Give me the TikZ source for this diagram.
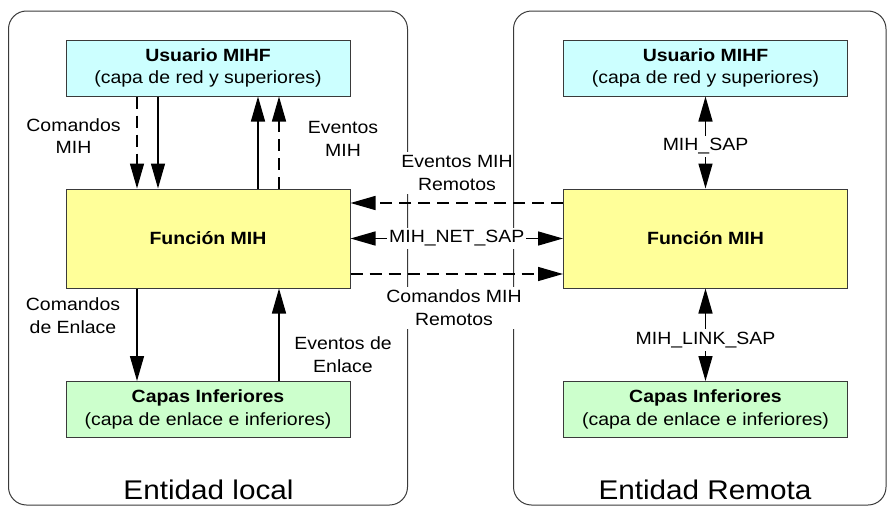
\documentclass[tikz,border=0pt]{standalone}
\usepackage{fontspec}
\setmainfont[FakeStretch=1.1]{Liberation Sans}
\usetikzlibrary{arrows.meta}
\definecolor{cyanbox}{HTML}{CCFFFF}
\definecolor{yelbox}{HTML}{FFFF99}
\definecolor{grnbox}{HTML}{CCFFCC}
\definecolor{bordc}{HTML}{3A3A3A}
\newcommand\lblfont{\fontsize{17.7}{22.8}\selectfont}
\newcommand\entfont{\fontsize{27}{32}\selectfont}
\tikzset{
  layerbox/.style={draw=bordc, line width=1pt, minimum width=284pt, minimum height=56pt, inner sep=0pt, align=center, font=\lblfont},
  funcbox/.style={layerbox, fill=yelbox, minimum height=99pt},
  container/.style={draw=bordc, line width=1pt, rounded corners=18pt},
  lbl/.style={font=\lblfont, align=center, inner xsep=0pt, inner ysep=3pt},
  lblw/.style={lbl, fill=white},
  sarrow/.style={line width=1.4pt, -{Triangle[length=25pt,width=14pt]}},
  darrow/.style={sarrow, dash pattern=on 12pt off 7pt},
  dblarrow/.style={line width=1.4pt, {Triangle[length=25pt,width=14pt]}-{Triangle[length=25pt,width=14pt]}},
}
\begin{document}
\begin{tikzpicture}[x=1pt,y=-1pt]
\useasboundingbox (0,0) rectangle (887,506);
% containers
\draw[container] (8.5,11) rectangle (407.5,505);
\draw[container] (513.5,11) rectangle (886,505);
% boxes
\node[layerbox, fill=cyanbox] (ul) at (208,68) {\textbf{Usuario MIHF}\\(capa de red y superiores)};
\node[funcbox] (fl) at (208,238.5) {\textbf{Función MIH}};
\node[layerbox, fill=grnbox] (cl) at (208,409.5) {\textbf{Capas Inferiores}\\(capa de enlace e inferiores)};
\node[layerbox, fill=cyanbox] (ur) at (705.5,68) {\textbf{Usuario MIHF}\\(capa de red y superiores)};
\node[funcbox] (fr) at (705.5,238.5) {\textbf{Función MIH}};
\node[layerbox, fill=grnbox] (cr) at (705.5,409.5) {\textbf{Capas Inferiores}\\(capa de enlace e inferiores)};
% left vertical arrows
\draw[darrow] ([xshift=-71pt]ul.south) -- ([xshift=-71pt]fl.north);
\draw[sarrow] ([xshift=-50pt]ul.south) -- ([xshift=-50pt]fl.north);
\draw[sarrow] ([xshift=50pt]fl.north) -- ([xshift=50pt]ul.south);
\draw[darrow] ([xshift=71pt]fl.north) -- ([xshift=71pt]ul.south);
\draw[sarrow] ([xshift=-71pt]fl.south) -- ([xshift=-71pt]cl.north);
\draw[sarrow] ([xshift=71pt]cl.north) -- ([xshift=71pt]fl.south);
% left labels
\node[lbl] (lcm) at (73.5,136) {Comandos\\MIH};
\node[lbl] (lem) at (343,139) {Eventos\\MIH};
\node[lbl] (lce) at (73,316) {Comandos\\de Enlace};
\node[lbl] (lee) at (343,355) {Eventos de\\Enlace};
% middle
\node[lblw] (lemr) at (457,173) {Eventos MIH\\Remotos};
\node[lblw] (lcmr) at (454,308) {Comandos MIH\\Remotos};
\draw[darrow] ([yshift=35.5pt]fr.west) -- ([yshift=35.5pt]fl.east);
\draw[darrow] ([yshift=-35.5pt]fl.east) -- ([yshift=-35.5pt]fr.west);
\draw[dblarrow] (fl) -- (fr) node[midway, lblw, inner xsep=2pt] (lnet) {MIH\_NET\_SAP};
% right
\draw[dblarrow] (ur) -- (fr) node[midway, lblw, inner xsep=2pt, yshift=-4pt] (lsap) {MIH\_SAP};
\draw[dblarrow] (fr) -- (cr) node[midway, lblw, inner xsep=2pt, yshift=-5pt] (llink) {MIH\_LINK\_SAP};
% entity titles
\node[anchor=base, font=\entfont, inner sep=0pt] (el) at (208.5,499) {Entidad local};
\node[anchor=base, font=\entfont, inner sep=0pt] (er) at (705,499) {Entidad Remota};
\end{tikzpicture}
\end{document}
